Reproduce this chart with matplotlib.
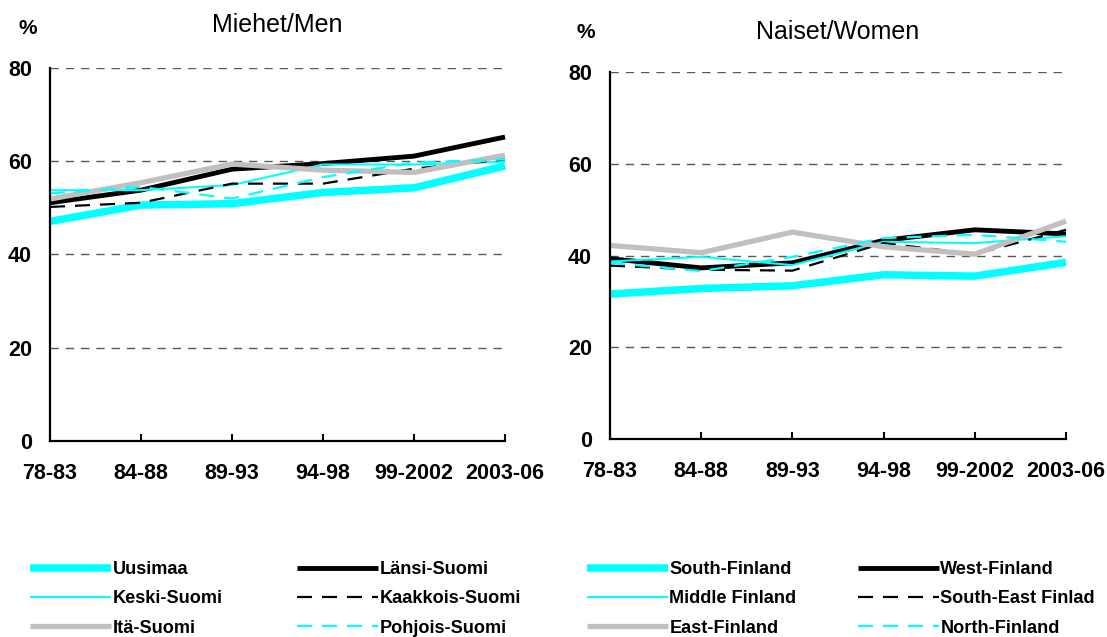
import matplotlib
matplotlib.use("Agg")
import matplotlib.pyplot as plt
from matplotlib.lines import Line2D

plt.rcParams['font.family'] = ['Liberation Sans', 'DejaVu Sans']

periods = ["78-83", "84-88", "89-93", "94-98", "99-2002", "2003-06"]
yticks = [0, 20, 40, 60, 80]

# miehet / men
men_uusimaa = [47.1, 50.6, 50.9, 53.3, 54.3, 59.0]
men_lansi = [51.1, 53.8, 58.3, 59.5, 61.1, 65.2]
men_keski = [53.8, 53.8, 54.9, 59.3, 59.3, 59.9]
men_kaakkois = [50.2, 51.1, 55.2, 55.2, 58.4, 60.4]
men_ita = [51.9, 55.4, 59.4, 58.1, 57.6, 61.3]
men_pohjois = [53.1, 54.5, 52.0, 56.6, 59.7, 60.4]

# naiset / women
women_uusimaa = [31.6, 32.8, 33.4, 35.8, 35.5, 38.5]
women_lansi = [39.3, 37.3, 38.4, 43.3, 45.6, 44.7]
women_keski = [38.7, 39.7, 37.9, 43.0, 42.7, 44.2]
women_kaakkois = [37.8, 36.9, 36.7, 42.7, 40.3, 45.6]
women_ita = [42.2, 40.6, 45.1, 41.9, 40.3, 47.5]
women_pohjois = [38.4, 36.6, 39.7, 43.8, 44.5, 43.0]

fi_names = ["Uusimaa", "Länsi-Suomi", "Keski-Suomi", "Kaakkois-Suomi", "Itä-Suomi", "Pohjois-Suomi"]
en_names = ["South-Finland", "West-Finland", "Middle Finland", "South-East Finlad", "East-Finland", "North-Finland"]

CYAN = "#00FFFF"
GRAY = "#C0C0C0"
styles = [
    dict(color=CYAN, lw=5.4, ls="-"),
    dict(color="black", lw=3.5, ls="-"),
    dict(color=CYAN, lw=1.5, ls="-"),
    dict(color="black", lw=1.6, ls=(0, (6.75, 4.5))),
    dict(color=GRAY, lw=3.8, ls="-"),
    dict(color=CYAN, lw=1.6, ls=(0, (6.75, 4.5))),
]
zorders = [2, 3, 4, 5, 6, 7]

fig = plt.figure(figsize=(11.07, 6.37), dpi=100)
ax1 = fig.add_axes([50/1107, 1-441/637, 455/1107, 373/637])
ax2 = fig.add_axes([610/1107, 1-439/637, 456/1107, 367/637])

panels = [
    (ax1, [men_uusimaa, men_lansi, men_keski, men_kaakkois, men_ita, men_pohjois]),
    (ax2, [women_uusimaa, women_lansi, women_keski, women_kaakkois, women_ita, women_pohjois]),
]

x = list(range(len(periods)))
for ax, series in panels:
    for vals, st, z in zip(series, styles, zorders):
        ax.plot(x, vals, color=st["color"], lw=st["lw"], linestyle=st["ls"],
                solid_capstyle="butt", dash_capstyle="butt", zorder=z, clip_on=False)
    ax.set_xlim(0, 5)
    ax.set_ylim(0, 80)
    ax.set_yticks(yticks)
    ax.set_xticks(x)
    ax.set_xticklabels(periods)
    for v in yticks[1:]:
        ax.axhline(v, color="#5a5a5a", lw=1.0, linestyle=(0, (6, 5)), zorder=1)
    for s in ["top", "right"]:
        ax.spines[s].set_visible(False)
    for s in ["left", "bottom"]:
        ax.spines[s].set_linewidth(1.6)
        ax.spines[s].set_zorder(8)
    ax.tick_params(axis="x", direction="in", length=5, width=1.5, pad=16, labelsize=15.5)
    ax.tick_params(axis="y", length=0, pad=13, labelsize=15.5)
    for lab in ax.get_xticklabels() + ax.get_yticklabels():
        lab.set_fontweight("bold")

fig.text(277/1107, 1-25/637, "Miehet/Men", ha="center", va="center", fontsize=18)
fig.text(838/1107, 1-32/637, "Naiset/Women", ha="center", va="center", fontsize=18)
fig.text(28/1107, 1-28/637, "%", ha="center", va="center", fontsize=15, fontweight="bold")
fig.text(586/1107, 1-33/637, "%", ha="center", va="center", fontsize=15, fontweight="bold")

def handle(st):
    return Line2D([], [], color=st["color"], lw=st["lw"], linestyle=st["ls"],
                  solid_capstyle="butt", dash_capstyle="butt")

cols = [
    (30, [0, 2, 4], fi_names),
    (297, [1, 3, 5], fi_names),
    (587, [0, 2, 4], en_names),
    (858, [1, 3, 5], en_names),
]
for x0, idx, names in cols:
    fig.legend([handle(styles[i]) for i in idx], [names[i] for i in idx],
               loc="upper left", bbox_to_anchor=(x0/1107, 1-561/637),
               frameon=False, borderpad=0, borderaxespad=0,
               handlelength=4.45, handletextpad=0.08, labelspacing=0.68,
               prop=dict(size=13.1, weight="bold"))

fig.savefig("out.png", dpi=100)
